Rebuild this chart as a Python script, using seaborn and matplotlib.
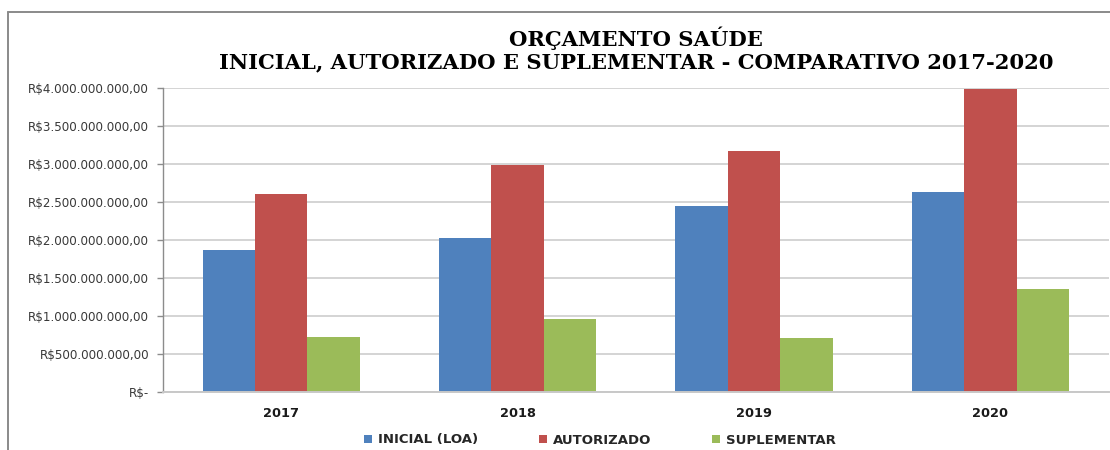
import matplotlib
matplotlib.use("Agg")
import matplotlib.pyplot as plt
from matplotlib.lines import Line2D
import pandas as pd
import seaborn as sns

# Health budget per year (R$)
anos = ["2017", "2018", "2019", "2020"]
inicial_loa = [1.868e9, 2.022e9, 2.450e9, 2.635e9]
autorizado = [2.600e9, 2.990e9, 3.170e9, 3.990e9]
suplementar = [0.728e9, 0.960e9, 0.714e9, 1.355e9]

series = ["INICIAL (LOA)", "AUTORIZADO", "SUPLEMENTAR"]
cores = ["#4F81BD", "#C0504D", "#9BBB59"]

y_ticks = [0, 0.5e9, 1.0e9, 1.5e9, 2.0e9, 2.5e9, 3.0e9, 3.5e9, 4.0e9]
y_labels = ["R$-", "R$500.000.000,00", "R$1.000.000.000,00",
            "R$1.500.000.000,00", "R$2.000.000.000,00", "R$2.500.000.000,00",
            "R$3.000.000.000,00", "R$3.500.000.000,00", "R$4.000.000.000,00"]

titulo = "ORÇAMENTO SAÚDE\nINICIAL, AUTORIZADO E SUPLEMENTAR - COMPARATIVO 2017-2020"

df = pd.DataFrame({
    "ano": anos * 3,
    "serie": [s for s in series for _ in anos],
    "valor": inicial_loa + autorizado + suplementar,
})

sns.set_theme(style="white")
plt.rcParams["font.family"] = ["DejaVu Sans"]

W, H = 1110, 450
fig = plt.figure(figsize=(W / 100, H / 100), dpi=100)
fig.patch.set_facecolor("white")
ax = fig.add_axes([163 / W, 1 - 392 / H, (1108.5 - 163) / W, (392 - 88) / H])

sns.barplot(data=df, x="ano", y="valor", hue="serie", hue_order=series,
            palette=cores, width=0.665, linewidth=0, saturation=1,
            ax=ax, legend=True)

ax.set_ylim(0, 4.0e9)
ax.set_xlim(-0.5, len(anos) - 0.5)
ax.set_yticks(y_ticks)
ax.set_yticklabels(y_labels)
ax.set_xlabel("")
ax.set_ylabel("")
ax.set_axisbelow(True)
ax.yaxis.grid(True, color="#D4D4D4", linewidth=1.4)
ax.xaxis.grid(False)

for s in ["top", "right"]:
    ax.spines[s].set_visible(False)
ax.spines["left"].set_color("#8C8C8C")
ax.spines["left"].set_linewidth(1.0)
ax.spines["bottom"].set_color("#C8C8C8")
ax.spines["bottom"].set_linewidth(1.4)

ax.tick_params(axis="y", length=4, width=1.0, color="#8C8C8C", pad=6,
               labelsize=8.6, labelcolor="#383838", left=True)
ax.tick_params(axis="x", length=0, pad=11, labelsize=9.3, labelcolor="#1A1A1A")
for lab in ax.get_xticklabels():
    lab.set_fontweight("bold")

# Legend below the axes
handles, labels = ax.get_legend_handles_labels()
ax.get_legend().remove()
leg = fig.legend(handles, labels, loc="center", bbox_to_anchor=(600 / W, 1 - 440 / H),
                 ncol=3, frameon=False, handlelength=0.6, handleheight=0.6,
                 handletextpad=0.45, columnspacing=4.6,
                 prop={"weight": "bold", "size": 9.5})
for t in leg.get_texts():
    t.set_color("#262626")

# Title
fig.text(636 / W, 1 - 49.5 / H, titulo, ha="center", va="center",
         family=["DejaVu Serif"], fontweight="bold",
         fontsize=15.2, linespacing=1.15, color="black")

# Outer chart frame
fc = "#8A8A8A"
fig.add_artist(Line2D([8 / W, 8 / W], [0, 1 - 12 / H], transform=fig.transFigure,
                      color=fc, linewidth=1.4))
fig.add_artist(Line2D([8 / W, 1], [1 - 12 / H, 1 - 12 / H], transform=fig.transFigure,
                      color=fc, linewidth=1.4))

fig.savefig("out.png", dpi=100)
